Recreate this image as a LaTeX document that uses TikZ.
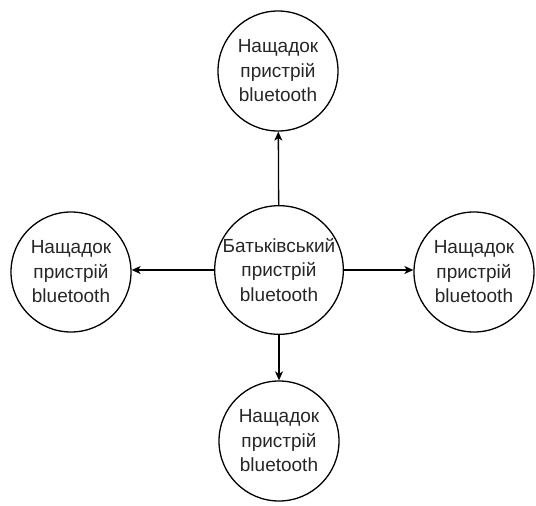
\documentclass[tikz,border=0pt]{standalone}
\usepackage{fontspec}
\setmainfont{Liberation Sans}
\usetikzlibrary{arrows.meta}
\begin{document}
\begin{tikzpicture}[x=1pt,y=-1pt,
  device/.style={draw, line width=1.3pt, circle, minimum size=120pt, inner sep=0pt,
    align=center, font=\fontsize{19}{24.5}\selectfont, text=black!85},
  link/.style={line width=1.3pt, -{Stealth[length=9pt,width=8pt,inset=2.5pt]}}]
  \useasboundingbox (0,0) rectangle (536,506);
  % parent device in the middle, children around it
  \node[device] (parent) at (279,270) {Батьківський\\пристрій\\bluetooth};
  \node[device] (top)    at (278,71)  {Нащадок\\пристрій\\bluetooth};
  \node[device] (left)   at (71,272)  {Нащадок\\пристрій\\bluetooth};
  \node[device] (right)  at (474,272) {Нащадок\\пристрій\\bluetooth};
  \node[device] (bottom) at (279,441) {Нащадок\\пристрій\\bluetooth};
  \draw[link] (parent) -- (top);
  \draw[link] (parent.west) -- (left.east |- parent.west);
  \draw[link] (parent.east) -- (right.west |- parent.east);
  \draw[link] (parent) -- (bottom);
\end{tikzpicture}
\end{document}
